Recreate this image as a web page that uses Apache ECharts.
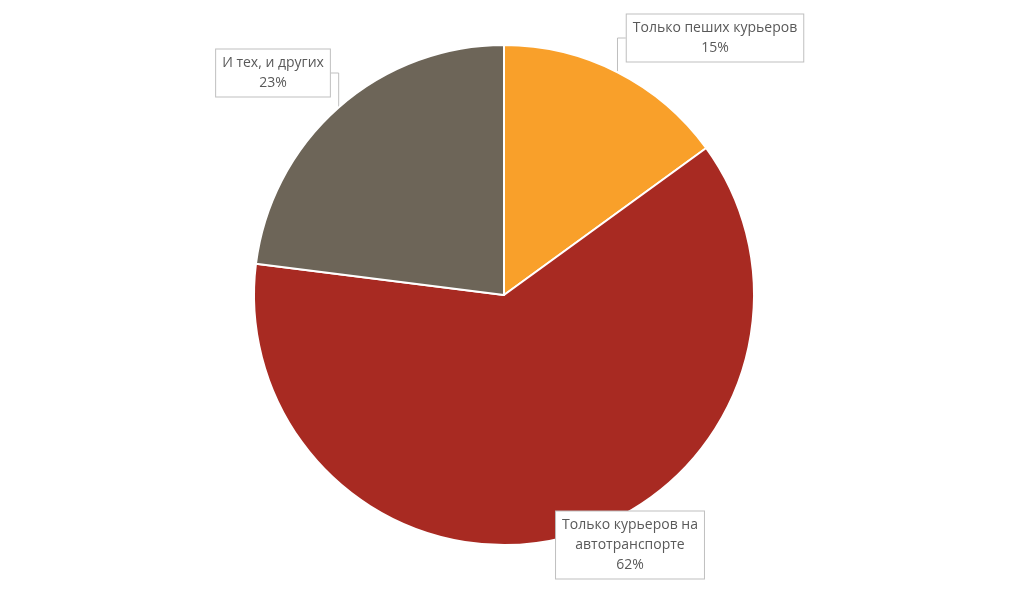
<!DOCTYPE html>
<html>
<head>
<meta charset="utf-8">
<script src="https://cdn.jsdelivr.net/npm/echarts@6/dist/echarts.min.js"></script>
<style>
  html, body { margin: 0; padding: 0; background: #fff; }
  #main { width: 1024px; height: 598px; }
</style>
</head>
<body>
<div id="main"></div>
<script>
const categories = ['Только пеших курьеров', 'Только курьеров на\nавтотранспорте', 'И тех, и других'];
const values = [15, 62, 23];
const colors = ['#F9A02A', '#A82A22', '#6D6558'];

// where each callout box sits
const labelSpots = [
  { x: 715, y: 38 },
  { x: 630, y: 545 },
  { x: 273, y: 73 }
];

const chart = echarts.init(document.getElementById('main'));

chart.setOption({
  animation: false,
  series: [
    {
      type: 'pie',
      center: [504, 295],
      radius: 250,
      startAngle: 90,
      clockwise: true,
      itemStyle: { borderColor: '#fff', borderWidth: 2 },
      data: categories.map((name, i) => ({
        name: name,
        value: values[i],
        itemStyle: { color: colors[i] },
        labelLine: { show: i !== 1 }
      })),
      label: {
        show: true,
        position: 'outside',
        formatter: '{b}\n{c}%',
        color: '#595959',
        fontFamily: 'Open Sans',
        fontSize: 14,
        lineHeight: 20,
        align: 'center',
        backgroundColor: '#fff',
        borderColor: '#bfbfbf',
        borderWidth: 1,
        padding: [4, 6, 3, 6]
      },
      labelLine: {
        show: true,
        length: 10,
        length2: 10,
        lineStyle: { color: '#bfbfbf', width: 1 }
      },
      labelLayout: function (params) {
        const spot = labelSpots[params.dataIndex];
        return {
          x: spot.x,
          y: spot.y,
          align: 'center',
          verticalAlign: 'middle'
        };
      }
    }
  ]
});
</script>
</body>
</html>
